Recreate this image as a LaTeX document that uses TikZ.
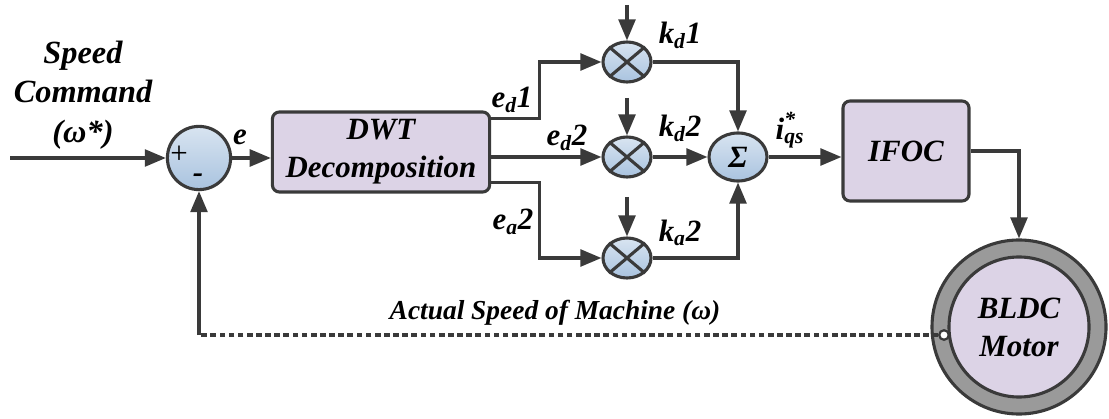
\documentclass[tikz,border=0pt]{standalone}
\usepackage{fontspec}
\newfontfamily\lblfont{Liberation Serif}
\usepackage{xcolor}
\usepackage{tikz}
\usetikzlibrary{arrows.meta,positioning,shapes.geometric}
\definecolor{boxfill}{HTML}{DCD3E6}
\definecolor{ballfill}{HTML}{A9C3DF}
\definecolor{linegray}{HTML}{3A3A3A}
\definecolor{ringgray}{HTML}{9A9A9A}

\begin{document}
\begin{tikzpicture}[
  x=0.025cm, y=-0.025cm,
  lbl/.style={font=\lblfont\fontsize{22}{27}\selectfont\bfseries\itshape, inner sep=0pt},
  box/.style={draw=linegray, line width=2.2pt, fill=boxfill, rounded corners=5pt,
              align=center, lbl},
  ball/.style={ellipse, draw=linegray, line width=2.2pt, top color=ballfill!45!white,
               bottom color=ballfill, inner sep=0pt},
  arr/.style={-{Triangle[length=15pt,width=12pt]}, line width=2.2pt, draw=linegray},
  wire/.style={line width=2.2pt, draw=linegray}
]
\useasboundingbox (0,0) rectangle (1109,419);

\node[ball, minimum width=1.58cm, minimum height=1.58cm] (sum) at (199,158) {};
\node[font=\lblfont\fontsize{22}{24}\selectfont, inner sep=0pt] (plus) at (179,155) {+};
\node[lbl] (minus) at (198,178) {-};
\node[box, minimum width=5.43cm, minimum height=2cm] (dwt) at (381,152) {DWT\\Decomposition};
\node[ball, minimum width=1.2cm, minimum height=1cm] (m1) at (627,62) {};
\node[ball, minimum width=1.2cm, minimum height=1cm] (m2) at (627,157) {};
\node[ball, minimum width=1.2cm, minimum height=1cm] (m3) at (627,258) {};
\foreach \m in {m1,m2,m3}{
  \draw[wire] (\m.north west) -- (\m.south east);
  \draw[wire] (\m.north east) -- (\m.south west);
}
\node[ball, minimum width=1.45cm, minimum height=1.2cm, lbl] (sigma) at (738,157) {Σ};
\node[box, minimum width=3.15cm, minimum height=2.5cm] (ifoc) at (906,151) {IFOC};
\node[circle, draw=linegray, line width=2.2pt, fill=ringgray, minimum size=4.35cm] (motor) at (1019,327) {};
\node[circle, draw=linegray, line width=2.2pt, fill=boxfill, minimum size=3.5cm,
      align=center, lbl] (bldc) at (motor) {BLDC\\Motor};
\node[circle, draw=linegray, line width=1.6pt, fill=white, minimum size=0.24cm,
      inner sep=0pt] (tap) at (944,335) {};

\coordinate (in) at (10,158);
\coordinate (m1in) at (627,5);
\coordinate (m2in) at (627,98);
\coordinate (m3in) at (627,197);
\coordinate (fb) at (199,335);

\node[lbl, font=\lblfont\fontsize{23}{28}\selectfont\bfseries\itshape, align=center]
  (speedcmd) at (83,95) {Speed\\Command\\(ω*)};
\node[lbl] (elbl) at (240,137) {e};
\node[lbl] (ed1) at (512,100) {e\textsubscript{d}1};
\node[lbl] (ed2) at (567,138) {e\textsubscript{d}2};
\node[lbl] (ea2) at (513,222) {e\textsubscript{a}2};
\node[lbl] (kd1) at (680,35) {k\textsubscript{d}1};
\node[lbl] (kd2) at (680,128) {k\textsubscript{d}2};
\node[lbl] (ka2) at (680,233) {k\textsubscript{a}2};
\node[lbl] (iqs) at (790,130) {i\rlap{\raisebox{2pt}{\textsuperscript{*}}}\textsubscript{qs}};
\node[lbl, font=\lblfont\fontsize{19.5}{24}\selectfont\bfseries\itshape]
  (actual) at (555,313) {Actual Speed of Machine (ω)};

\draw[arr] (in) -- (sum);
\draw[arr] (sum) -- (sum -| dwt.west);
\draw[arr] ([yshift=24pt]dwt.east) -- ++(48,0) |- (m1);
\draw[arr] (dwt.east |- m2) -- (m2);
\draw[arr] ([yshift=-22pt]dwt.east) -- ++(48,0) |- (m3);
\draw[arr] (m1in) -- (m1);
\draw[arr] (m2in) -- (m2);
\draw[arr] (m3in) -- (m3);
\draw[arr] (m1) -| (sigma);
\draw[arr] (m2) -- (sigma);
\draw[arr] (m3) -| (sigma);
\draw[arr] (sigma) -- (sigma -| ifoc.west);
\draw[arr] (ifoc.east) -| (motor);
\draw[wire, dash pattern=on 4pt off 2.5pt] (tap) -- (fb);
\draw[arr] (fb) -- (sum);
\end{tikzpicture}
\end{document}
